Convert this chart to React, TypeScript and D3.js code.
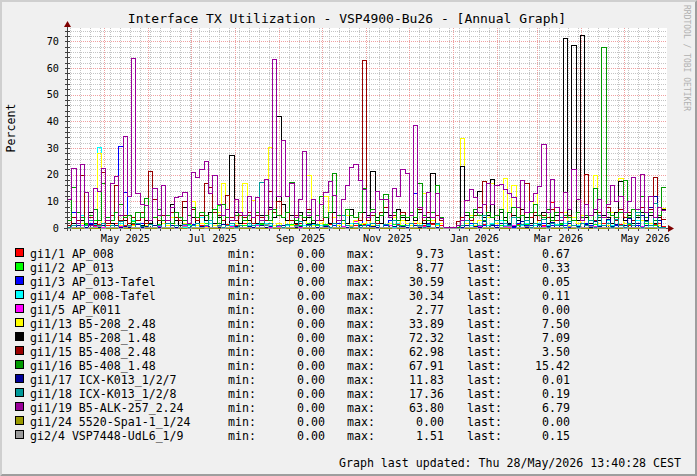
import React from 'react';
import * as d3 from 'd3';

const width = 697;
const height = 476;
const plot = {left: 67, right: 667, top: 28, bottom: 228};
const font = '"DejaVu Sans Mono", monospace';

// time span of the graph and data resolution (3 day steps)
const DAY = 864e5;
const start = Date.UTC(2025, 3, 5);
const end = start + 421.15 * DAY;
const stepDays = 3;
const yMax = 75;

const title = 'Interface TX Utilization - VSP4900-Bu26 - [Annual Graph]';
const yLabel = 'Percent';
const footer = 'Graph last updated: Thu 28/May/2026 13:40:28 CEST';
const watermark = 'RRDTOOL / TOBI OETIKER';

const names = [
  'gi1/1 AP_008', 'gi1/2 AP_013', 'gi1/3 AP_013-Tafel', 'gi1/4 AP_008-Tafel',
  'gi1/5 AP_K011', 'gi1/13 B5-208_2.48', 'gi1/14 B5-208_1.48', 'gi1/15 B5-408_2.48',
  'gi1/16 B5-408_1.48', 'gi1/17 ICX-K013_1/2/7', 'gi1/18 ICX-K013_1/2/8',
  'gi1/19 B5-ALK-257_2.24', 'gi1/24 5520-Spa1-1_1/24', 'gi2/4 VSP7448-UdL6_1/9',
];
const colors = [
  '#ff0000', '#00ff00', '#0000ff', '#00ffff', '#ff00ff', '#ffff00', '#000000',
  '#990000', '#009900', '#000099', '#009999', '#990099', '#999900', '#999999',
];
const mins = [0, 0, 0, 0, 0, 0, 0, 0, 0, 0, 0, 0, 0, 0];
const maxs = [9.73, 8.77, 30.59, 30.34, 2.77, 33.89, 72.32, 62.98, 67.91, 11.83, 17.36, 63.80, 0.00, 1.51];
const lasts = [0.67, 0.33, 0.05, 0.11, 0.00, 7.50, 7.09, 3.50, 15.42, 0.01, 0.19, 6.79, 0.00, 0.15];

// values per 3 day step, 10 steps per row
const gi1_1 = [
  0.2, 1, 0.5, 2, 0.3, 1, 0.5, 1.5, 0.3, 1,
  0.5, 2, 0.3, 1, 0.5, 1.5, 0.2, 1, 0.5, 2,
  0.3, 1, 0.5, 2, 0.2, 1, 0.5, 1.5, 0.3, 1,
  0.5, 1, 0.3, 2, 0.5, 1, 0.2, 1.5, 0.5, 1,
  0.3, 2, 0.5, 1, 0.2, 1.5, 0.5, 1, 0.3, 2,
  0.5, 1, 0.3, 1.5, 0.5, 1, 0.2, 2, 0.5, 1,
  0.3, 1.5, 0.5, 1, 0.2, 2, 0.5, 1, 0.3, 1.5,
  0.5, 1, 0.3, 2, 0.5, 1, 0.2, 1.5, 0.5, 1,
  0.3, 2, 0.5, 1, 0.2, 1.5, 0.5, 1, 0, 0,
  0, 0, 0.5, 1, 0.3, 2, 0.5, 1.5, 0.3, 1,
  0.5, 2, 0.3, 1, 0.5, 1.5, 0.2, 1, 0.5, 2,
  0.3, 1, 0.5, 9.73, 0.2, 1.5, 0.5, 1, 0.3, 2,
  0.5, 1, 0.3, 1.5, 0.5, 2, 0.2, 1, 0.5, 1.5,
  0.3, 1, 0.5, 2, 0.3, 1, 0.5, 1.5, 2, 0.67,
];
const gi1_2 = [
  0.5, 2, 1, 0.3, 1.5, 0.5, 3, 1, 0.5, 2,
  1, 0.5, 2, 0.3, 1, 2.5, 0.5, 1, 0.3, 2,
  0.5, 1.5, 0.3, 1, 2, 0.5, 1, 0.3, 1.5, 0.5,
  1, 0.3, 2, 0.5, 1, 8.77, 0.5, 1, 0.3, 2,
  0.5, 1, 0.3, 2, 0.5, 1.5, 0.3, 1, 0.5, 2,
  1, 0.5, 1.5, 0.3, 1, 0.5, 2, 0.3, 1, 0.5,
  1.5, 0.3, 1, 0.5, 2, 0.3, 1, 0.5, 1.5, 0.3,
  1, 0.5, 2, 0.3, 1, 0.5, 1.5, 0.3, 1, 0.5,
  2, 0.3, 1, 0.5, 1.5, 0.3, 1, 0.5, 0, 0,
  0, 0, 0.3, 1, 0.5, 2, 0.3, 1, 0.5, 1.5,
  0.3, 1, 0.5, 2, 0.3, 1, 0.5, 1.5, 0.3, 1,
  0.5, 2, 0.3, 1, 0.5, 1.5, 0.3, 1, 0.5, 2,
  0.3, 1, 0.5, 1.5, 0.3, 1, 0.5, 2, 0.3, 1,
  0.5, 1.5, 0.3, 1, 0.5, 2, 0.3, 1, 0.5, 0.33,
];
const gi1_3 = [
  0.5, 6, 0.3, 1, 0.5, 2, 0.3, 1, 0.5, 0.3,
  1, 0.3, 30.59, 13.6, 0.5, 1, 0.3, 2, 0.5, 0.3,
  1, 0.5, 0.3, 2, 0.5, 0.3, 1, 0.5, 0.3, 1.5,
  0.5, 0.3, 1, 0.5, 2, 0.3, 0.5, 1, 0.3, 0.5,
  1, 0.3, 0.5, 2, 0.3, 1, 0.5, 0.3, 1, 0.5,
  0.3, 1, 0.5, 0.3, 2, 0.5, 1, 0.3, 0.5, 1,
  0.5, 0.3, 1, 2, 0.5, 0.3, 1, 0.5, 3, 0.5,
  1, 0.5, 2, 0.3, 1, 3, 0.5, 1, 0.3, 2,
  0.5, 13, 1, 0.3, 2, 0.5, 1, 0.3, 0, 0,
  0, 0, 1, 0.5, 2, 0.3, 3, 1, 0.5, 2,
  1, 0.5, 3, 1, 0.5, 2, 0.3, 1, 4, 0.5,
  1, 2, 0.5, 1, 0.3, 2, 1, 0.5, 3, 1,
  0.5, 2, 1, 0.3, 3, 1, 0.5, 2, 1, 0.5,
  1, 0.5, 2, 1, 0.3, 1, 0.5, 2, 0.3, 0.05,
];
const gi1_4 = [
  0.5, 2, 0.3, 5, 1, 0.5, 1.5, 30.34, 2, 0.5,
  1, 0.3, 2, 0.5, 1, 3, 0.5, 1, 0.3, 2,
  0.5, 1, 0.3, 2, 0.5, 1, 3, 0.5, 1, 0.3,
  1, 4, 0.5, 2, 1, 0.3, 1.5, 0.5, 1, 0.3,
  2, 0.5, 1, 0.3, 1.5, 0.5, 2, 1, 0.3, 1,
  0.5, 1, 0.3, 2, 0.5, 1, 0.3, 1.5, 0.5, 1,
  0.3, 2, 0.5, 1, 0.3, 1, 2, 0.5, 1, 0.3,
  1.5, 0.5, 1, 2, 0.3, 1, 0.5, 2, 0.3, 1,
  0.5, 1, 2, 0.3, 1, 0.5, 1.5, 0.3, 0, 0,
  0, 0, 0.5, 2, 1, 0.3, 3, 0.5, 1, 2,
  0.5, 3, 1, 0.3, 4, 0.5, 1, 2, 0.3, 1,
  2, 0.5, 1, 0.3, 1.5, 0.5, 2, 1, 0.3, 1,
  0.5, 1, 2, 0.3, 1, 0.5, 3, 1, 0.5, 1,
  2, 0.5, 1, 3, 0.3, 1, 0.5, 2, 0.3, 0.11,
];
const gi1_5 = [
  0.1, 0.5, 0.2, 1, 0.1, 0.3, 0.8, 0.2, 0.5, 0.1,
  0.3, 0.1, 0.6, 0.2, 1.2, 0.1, 0.4, 0.2, 0.1, 0.5,
  0.2, 0.8, 0.1, 0.3, 0.5, 0.1, 0.2, 1, 0.1, 0.4,
  0.1, 0.3, 0.6, 0.1, 0.2, 0.5, 0.1, 0.3, 0.8, 0.2,
  0.5, 0.1, 0.3, 0.2, 1.1, 0.1, 0.4, 0.2, 0.1, 0.6,
  0.2, 0.4, 0.1, 0.7, 0.2, 0.1, 0.5, 0.3, 0.1, 0.2,
  0.6, 0.1, 0.3, 0.2, 0.9, 0.1, 0.2, 2.77, 0.3, 0.1,
  0.2, 0.5, 0.1, 0.3, 0.2, 1, 0.1, 0.4, 0.2, 0.1,
  0.4, 0.2, 0.1, 0.6, 0.2, 0.1, 0.3, 0.2, 0, 0,
  0, 0, 0.2, 0.5, 0.1, 0.3, 0.8, 0.2, 0.1, 0.4,
  0.3, 0.1, 0.6, 0.2, 1.3, 0.1, 0.4, 0.2, 0.1, 0.5,
  0.2, 0.7, 0.1, 0.3, 0.5, 0.1, 0.2, 0.9, 0.1, 0.3,
  0.1, 0.4, 0.2, 0.6, 0.1, 0.3, 1.1, 0.2, 0.1, 0.5,
  0.3, 0.1, 0.4, 0.2, 0.8, 0.1, 0.3, 0.2, 0.1, 0,
];
const gi1_13 = [
  0, 1, 0.5, 2, 1, 6, 0.5, 28, 1, 0.5,
  2, 0.5, 1, 3, 0.5, 1, 2, 0.5, 1, 3,
  1, 0.5, 2, 1, 4, 0.5, 1, 2, 0.5, 10,
  1, 2, 0.5, 3, 1, 6, 17, 1, 0.5, 2,
  1, 17, 0.5, 10.5, 2, 1, 3, 30.4, 1, 2,
  0.5, 3, 1, 2, 6, 0.5, 20, 1, 3, 2,
  12, 0.5, 4, 1, 2, 5, 1, 3, 0.5, 2,
  4, 1, 3, 5, 0.5, 2, 4, 1, 3, 2,
  1, 4, 2, 13, 0.5, 3, 1, 2, 0, 0,
  0, 0, 33.89, 2, 5, 1, 3, 0.5, 4, 17,
  2, 6, 18.7, 1, 16, 3, 0.5, 4, 2, 13,
  1, 5, 2, 4, 0.5, 3, 6, 1, 4, 2,
  5, 1, 3, 19.7, 2, 4, 1, 6, 3, 18.7,
  2, 4, 1, 5, 3, 6, 2, 4, 1, 7.5,
];
const gi1_14 = [
  0.5, 2, 0.5, 3, 1, 6, 2, 0.5, 1, 3,
  2, 1, 5, 3, 1, 4, 2, 1, 3, 2,
  4, 1, 3, 2, 9, 3, 1, 8, 2, 4,
  2, 5, 3, 6, 2, 4, 3, 1, 27.5, 6,
  2, 5, 3, 4, 2, 5, 3, 8, 4, 42,
  9, 3, 5, 2, 6, 3, 4, 2, 5, 3,
  4, 2, 6, 3, 5, 2, 7, 4, 3, 6,
  5, 21.4, 4, 2, 6, 5, 3, 7, 4, 3,
  5, 3, 6, 2, 4, 20.6, 5, 3, 0.3, 0.1,
  0.1, 0.3, 23.2, 5, 3, 6, 13.8, 4, 5, 18.4,
  3, 6, 4, 2, 5, 3, 7, 4, 2, 5,
  3, 6, 2, 4, 5, 3, 71.3, 4, 68.7, 3,
  72.32, 4, 2, 6, 3, 5, 4, 2, 6, 17.5,
  3, 5, 2, 4, 6, 3, 5, 2, 4, 7.09,
];
const gi1_15 = [
  1, 4, 3, 20, 2, 4, 1, 3, 21, 2,
  5, 16, 3, 5, 2, 4, 3, 6, 2, 21.3,
  11, 3, 5, 2, 6, 4, 3, 10, 5, 7,
  3, 5, 17, 15.5, 6, 5, 3, 12.5, 4, 3,
  5, 4, 6, 2, 5, 4, 3, 14, 6, 10,
  4, 6, 3, 5, 2, 4, 7, 3, 5, 3,
  4, 6, 2, 5, 3, 7, 5, 4, 3, 62.98,
  3, 5, 2, 6, 8, 4, 5, 3, 6, 4,
  5, 4, 7, 3, 6, 2, 5, 3, 0.5, 0.2,
  0.1, 2.5, 4, 6, 3, 5, 8, 17.5, 6, 4,
  5, 7, 3, 6, 4, 8, 5, 16.8, 4, 6,
  3, 5, 4, 7, 3, 6, 4, 5, 3, 6,
  4, 20.2, 5, 3, 6, 4, 8, 5, 3, 7,
  4, 6, 3, 5, 8, 4, 7, 19.2, 5, 3.5,
];
const gi1_16 = [
  3, 15.5, 6, 4, 2, 5, 7, 3, 17, 4,
  3, 6, 9, 4, 5, 2, 6, 4, 11.2, 3,
  4, 7, 3, 5, 2, 6, 4, 3, 5, 8,
  4, 6, 5, 3, 7, 2, 9, 4, 3, 5,
  6, 3, 5, 4, 6, 2, 5, 3, 7, 5,
  4, 6, 17.4, 3, 5, 4, 6, 3, 5, 12,
  4, 6, 20.6, 5, 3, 7, 5, 4, 6, 15,
  4, 7, 3, 5, 12.6, 4, 6, 3, 5, 4,
  6, 4, 17, 5, 3, 6, 16, 4, 0.5, 0.2,
  0.1, 0.5, 3, 6, 4, 7, 5, 3, 6, 4,
  5, 7, 3, 6, 8, 4, 5, 3, 6, 9,
  5, 4, 7, 3, 6, 2, 5, 4, 3, 6,
  4, 5, 3, 15, 4, 67.91, 6, 5, 4, 6,
  18, 4, 7, 5, 12, 4, 6, 3, 5, 15.42,
];
const gi1_17 = [
  0.2, 0.5, 1, 0.3, 0.5, 1.5, 0.2, 0.5, 1, 0.3,
  0.5, 1.2, 0.3, 0.8, 0.2, 0.5, 1.5, 0.3, 0.6, 0.2,
  1, 0.3, 0.5, 0.2, 1.3, 0.4, 0.2, 0.8, 0.3, 0.5,
  0.3, 0.6, 1.1, 0.2, 0.5, 0.3, 1.6, 0.2, 0.4, 0.8,
  0.5, 0.2, 0.8, 0.4, 0.2, 1.2, 0.3, 0.6, 0.2, 0.5,
  1, 0.3, 0.5, 0.2, 0.7, 0.3, 1.4, 0.2, 0.5, 0.3,
  0.6, 0.2, 1.8, 0.3, 0.5, 0.2, 0.8, 0.4, 1.2, 0.3,
  0.4, 0.8, 0.2, 0.5, 1.5, 0.3, 0.6, 0.2, 0.9, 0.4,
  0.2, 1.1, 0.5, 0.3, 0.7, 0.2, 0.5, 0.3, 0, 0,
  0, 0, 0.5, 1.2, 0.3, 0.8, 0.4, 2.5, 0.3, 1,
  0.5, 2, 0.3, 1.5, 0.6, 0.3, 2.8, 0.5, 1, 0.4,
  1.5, 0.3, 0.8, 2.2, 0.4, 1, 0.3, 1.8, 0.5, 0.9,
  0.4, 1.6, 0.3, 2.5, 0.8, 0.5, 3.2, 0.6, 1.4, 0.5,
  1, 3.7, 0.5, 2, 5, 1, 8, 11.83, 3, 0.01,
];
const gi1_18 = [
  0.3, 1, 2, 0.5, 1, 3, 0.5, 1, 2, 0.5,
  1, 0.5, 2.5, 0.3, 1, 0.5, 2, 0.8, 0.3, 1.5,
  0.5, 1.2, 0.3, 2, 0.5, 1, 0.3, 1.5, 0.5, 1,
  2, 0.5, 1, 3, 0.5, 1.2, 0.3, 1, 2, 0.5,
  1, 0.5, 2, 1, 0.5, 17.36, 1, 2, 0.5, 1,
  0.5, 1.5, 0.3, 1, 2.5, 0.5, 1, 0.3, 1.5, 0.5,
  1, 0.3, 2, 0.5, 5, 1, 0.5, 2, 0.3, 1,
  0.5, 2, 1, 0.3, 1.5, 0.5, 3, 1, 0.5, 1.2,
  2, 0.5, 1, 0.3, 1.5, 0.5, 2, 0.5, 0, 0,
  0, 0, 1, 3, 0.5, 2, 1, 5, 0.5, 1.5,
  3, 0.5, 2, 1, 4, 0.5, 1.5, 3, 0.5, 2,
  1, 3.5, 0.5, 2, 1, 4, 0.5, 2.5, 1, 0.5,
  2, 1, 3, 0.5, 5, 1, 2, 0.5, 3.5, 1,
  0.5, 2, 1, 6, 0.5, 2.5, 1, 9.5, 0.5, 0.19,
];
const gi1_19 = [
  11, 22.5, 2, 24, 13.5, 1, 15, 14, 22.5, 3,
  17, 19.5, 5, 34.5, 12, 63.8, 13, 9, 8.5, 3,
  15, 5, 16, 3, 8, 11.5, 12, 13.5, 2, 21,
  19, 22, 25, 13, 20, 9, 5, 7, 3, 11,
  6, 5, 12, 4, 11.5, 3, 18.5, 7, 63.5, 12,
  33, 12, 17, 4, 11, 29, 5, 11, 3, 9,
  13.5, 17.5, 12.5, 3, 11, 16, 22.8, 24, 18, 14.5,
  4, 6, 14, 11, 11, 4, 15, 12, 22, 20.5,
  5, 38.6, 8, 4, 13.6, 4, 13, 3.6, 0.5, 0.3,
  0.2, 1, 3, 10.5, 14.6, 11.5, 6, 9, 17, 9,
  16, 16.5, 14.5, 13, 11.6, 8, 18, 6, 10, 13,
  15.7, 31.5, 6, 18.4, 8, 3, 13.6, 7, 22, 11,
  3, 9, 5, 7, 11, 4, 9, 16, 10, 12,
  6, 10, 19.3, 7, 20.2, 6, 12, 4, 8, 6.79,
];
const gi1_24 = [
  0, 0, 0, 0, 0, 0, 0, 0, 0, 0,
  0, 0, 0, 0, 0, 0, 0, 0, 0, 0,
  0, 0, 0, 0, 0, 0, 0, 0, 0, 0,
  0, 0, 0, 0, 0, 0, 0, 0, 0, 0,
  0, 0, 0, 0, 0, 0, 0, 0, 0, 0,
  0, 0, 0, 0, 0, 0, 0, 0, 0, 0,
  0, 0, 0, 0, 0, 0, 0, 0, 0, 0,
  0, 0, 0, 0, 0, 0, 0, 0, 0, 0,
  0, 0, 0, 0, 0, 0, 0, 0, 0, 0,
  0, 0, 0, 0, 0, 0, 0, 0, 0, 0,
  0, 0, 0, 0, 0, 0, 0, 0, 0, 0,
  0, 0, 0, 0, 0, 0, 0, 0, 0, 0,
  0, 0, 0, 0, 0, 0, 0, 0, 0, 0,
  0, 0, 0, 0, 0, 0, 0, 0, 0, 0,
];
const gi2_4 = [
  0.1, 0.3, 0.2, 0.5, 0.1, 0.4, 0.2, 0.6, 0.1, 0.3,
  0.2, 0.5, 0.1, 0.3, 0.8, 0.2, 0.4, 0.1, 0.3, 0.2,
  0.4, 0.1, 0.3, 0.2, 0.5, 0.1, 0.2, 0.6, 0.1, 0.3,
  0.2, 0.4, 0.1, 0.3, 0.2, 0.7, 0.1, 0.2, 0.4, 0.1,
  0.3, 0.2, 0.5, 0.1, 0.3, 0.2, 1.51, 0.1, 0.4, 0.2,
  0.1, 0.3, 0.2, 0.6, 0.1, 0.3, 0.2, 0.4, 0.1, 0.2,
  0.5, 0.1, 0.3, 0.2, 0.4, 0.1, 0.8, 0.2, 0.1, 0.3,
  0.2, 0.4, 0.1, 0.3, 0.2, 0.5, 0.1, 0.3, 0.2, 0.1,
  0.3, 0.2, 0.6, 0.1, 0.2, 0.4, 0.1, 0.2, 0, 0,
  0, 0, 0.1, 0.3, 0.2, 0.5, 0.1, 0.4, 0.2, 0.3,
  0.1, 0.4, 0.2, 0.6, 0.1, 0.3, 0.2, 0.9, 0.1, 0.3,
  0.2, 0.5, 0.1, 0.3, 0.2, 0.4, 0.1, 0.6, 0.2, 0.1,
  0.3, 0.2, 0.7, 0.1, 0.4, 0.2, 0.3, 0.1, 0.5, 0.2,
  0.1, 0.3, 0.2, 0.5, 0.1, 0.4, 0.2, 0.3, 0.1, 0.15,
];

const series = [gi1_1, gi1_2, gi1_3, gi1_4, gi1_5, gi1_13, gi1_14, gi1_15,
  gi1_16, gi1_17, gi1_18, gi1_19, gi1_24, gi2_4];

const xScale = d3.scaleUtc().domain([start, end]).range([plot.left, plot.right]);
const yScale = d3.scaleLinear().domain([0, yMax]).range([plot.bottom, plot.top]);
// snap to pixel centres like rrdtool does
const px = (v: number) => Math.round(v) + 0.5;

const lineGenerator = d3.line<[number, number]>()
  .x(d => px(xScale(d[0])))
  .y(d => px(yScale(d[1])))
  .curve(d3.curveStepAfter);

const stepPath = (vals: number[]) => {
  const pts: [number, number][] = vals.map((v, i) => [start + i * stepDays * DAY, v]);
  pts.push([start + vals.length * stepDays * DAY, vals[vals.length - 1]]);
  return lineGenerator(pts) || '';
};

const minorColor = '#c4c4c4';
const majorColor = '#f0a0a0';
const axisColor = '#404040';
const arrowColor = '#7f0000';

export default function App() {
  const weeks = d3.utcMonday.range(start, end);
  const months = d3.utcMonth.range(start, end);
  const labelMonths = d3.utcMonth.every(2)!.range(start, end);
  const hMinor = d3.range(0, yMax + 1, 2).filter(v => v % 10 !== 0);
  const hMajor = d3.range(10, yMax + 1, 10);
  const yTicks = d3.range(0, yMax, 10);
  const fmt = d3.format('.2f');

  return (
    <svg width={width} height={height} style={{position: 'absolute', left: 0, top: 0, display: 'block'}}>
      <rect x={0} y={0} width={width} height={height} fill='#f0f0f0' />
      <polygon points={`0,${height} 2,${height - 2} 2,2 ${width - 2},2 ${width},0 0,0`} fill='#cfcfcf' />
      <polygon points={`2,${height - 2} ${width - 2},${height - 2} ${width - 2},2 ${width},0 ${width},${height} 0,${height}`} fill='#9e9e9e' />
      <rect x={plot.left} y={plot.top} width={plot.right - plot.left} height={plot.bottom - plot.top} fill='#ffffff' />

      {/* grid */}
      <g shapeRendering='crispEdges' strokeWidth={1} strokeDasharray='1,1'>
        {hMinor.map(v => (
          <line key={'hm' + v} x1={plot.left} x2={plot.right} y1={px(yScale(v))} y2={px(yScale(v))} stroke={minorColor} />
        ))}
        {weeks.map(d => (
          <line key={'w' + +d} x1={px(xScale(d))} x2={px(xScale(d))} y1={plot.top} y2={plot.bottom} stroke={minorColor} />
        ))}
        {hMajor.map(v => (
          <line key={'hM' + v} x1={plot.left} x2={plot.right} y1={px(yScale(v))} y2={px(yScale(v))} stroke={majorColor} />
        ))}
        {months.map(d => (
          <line key={'m' + +d} x1={px(xScale(d))} x2={px(xScale(d))} y1={plot.top} y2={plot.bottom} stroke={majorColor} />
        ))}
      </g>

      {/* axes */}
      <g shapeRendering='crispEdges' stroke={axisColor}>
        <line x1={px(plot.left)} x2={px(plot.left)} y1={plot.top - 1} y2={plot.bottom + 3} />
        <line x1={plot.left - 3} x2={plot.right + 1} y1={px(plot.bottom)} y2={px(plot.bottom)} />
        {d3.range(0, yMax + 1, 2).map(v => (
          <line key={'yt' + v} x1={plot.left - 2} x2={plot.left + 3} y1={px(yScale(v))} y2={px(yScale(v))} />
        ))}
        {weeks.map(d => (
          <line key={'xt' + +d} x1={px(xScale(d))} x2={px(xScale(d))} y1={plot.bottom - 2} y2={plot.bottom + 3} />
        ))}
      </g>

      {/* data */}
      <g fill='none' strokeWidth={1} shapeRendering='crispEdges'>
        {series.map((vals, i) => (
          <path key={names[i]} d={stepPath(vals)} stroke={colors[i]} />
        ))}
      </g>

      <polygon points={`${plot.left - 3},${plot.top - 1} ${plot.left + 4},${plot.top - 1} ${plot.left + 0.5},${plot.top - 7}`} fill={arrowColor} />
      <polygon points={`${plot.right + 1},${plot.bottom - 3} ${plot.right + 1},${plot.bottom + 4} ${plot.right + 7},${plot.bottom + 0.5}`} fill={arrowColor} />

      {/* axis labels */}
      <g fontFamily={font} fontSize={10.2} fill='#000'>
        {yTicks.map(v => (
          <text key={'yl' + v} x={59} y={yScale(v) + 3.8} textAnchor='end'>{v}</text>
        ))}
        {labelMonths.map(d => (
          <text key={'xl' + +d} x={xScale(+d + 15 * DAY)} y={241.5} textAnchor='middle'>{d3.utcFormat('%b %Y')(d)}</text>
        ))}
      </g>

      <text x={347} y={23} textAnchor='middle' fontFamily={font} fontSize={13} fill='#000'>{title}</text>
      <text transform='translate(15,128) rotate(-90)' textAnchor='middle' fontFamily={font} fontSize={11.6} fill='#000'>{yLabel}</text>
      <text transform='translate(684,5) rotate(90)' fontFamily={font} fontSize={8} fill='#b0b0b0'>{watermark}</text>

      {/* legend */}
      <g fontFamily={font} fontSize={11.6} fill='#000'>
        {names.map((n, i) => {
          const cy = 254 + i * 14;
          return (
            <g key={'lg' + n}>
              <rect x={15.5} y={cy - 5.5} width={8} height={8} fill={colors[i]} stroke='#000' shapeRendering='crispEdges' />
              <text x={30} y={cy + 4}>{n}</text>
              <text x={228} y={cy + 4}>min:</text>
              <text x={325} y={cy + 4} textAnchor='end'>{fmt(mins[i])}</text>
              <text x={347} y={cy + 4}>max:</text>
              <text x={444} y={cy + 4} textAnchor='end'>{fmt(maxs[i])}</text>
              <text x={467} y={cy + 4}>last:</text>
              <text x={570} y={cy + 4} textAnchor='end'>{fmt(lasts[i])}</text>
            </g>
          );
        })}
      </g>

      <text x={681} y={467} textAnchor='end' fontFamily={font} fontSize={11.6} fill='#000'>{footer}</text>
    </svg>
  );
}
